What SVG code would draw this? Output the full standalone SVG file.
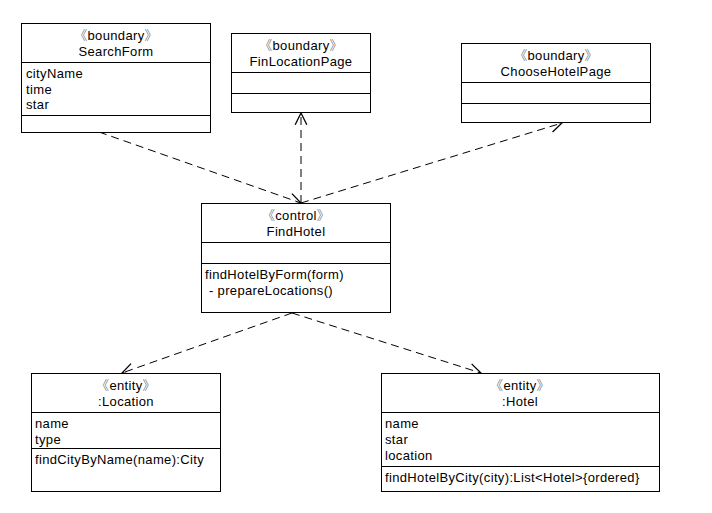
<svg xmlns="http://www.w3.org/2000/svg" width="712" height="513" viewBox="0 0 712 513">
<style>
.box{fill:#fff;stroke:#000;stroke-width:1}
.div{stroke:#000;stroke-width:1}
text{font-family:"Liberation Sans","Noto Sans CJK SC",Arial,sans-serif;font-size:13px;fill:#000;letter-spacing:0.35px}
.c{text-anchor:middle}
.g{fill:#555;font-weight:300}
.dep{fill:none;stroke:#000;stroke-width:1;stroke-dasharray:8 5}
</style>
<defs>
<marker id="open" markerUnits="userSpaceOnUse" markerWidth="14" markerHeight="14" viewBox="0 0 12 12" refX="11" refY="6" orient="auto">
<path d="M1,1 L11,6 L1,11" fill="none" stroke="#000" stroke-width="1.1"/>
</marker>
</defs>
<rect width="712" height="513" fill="#fff"/>

<g id="connectors">
<line class="dep" x1="99" y1="132" x2="301" y2="203" marker-end="url(#open)"/>
<line class="dep" x1="301" y1="203" x2="301" y2="113" marker-end="url(#open)"/>
<line class="dep" x1="301" y1="203" x2="562" y2="123" marker-end="url(#open)"/>
<line class="dep" x1="292" y1="313" x2="122" y2="373" marker-end="url(#open)"/>
<line class="dep" x1="292" y1="313" x2="481" y2="373" marker-end="url(#open)"/>
</g>

<g id="SearchForm">
<rect class="box" x="21.5" y="23.5" width="189" height="109"/>
<line class="div" x1="21.5" y1="62.5" x2="210.5" y2="62.5"/>
<line class="div" x1="21.5" y1="115.5" x2="210.5" y2="115.5"/>
<text class="c" x="116" y="40"><tspan class="g">《</tspan>boundary<tspan class="g">》</tspan></text>
<text class="c" x="116" y="56">SearchForm</text>
<text x="26" y="78">cityName</text>
<text x="26" y="94">time</text>
<text x="26" y="109">star</text>
</g>

<g id="FinLocationPage">
<rect class="box" x="231.5" y="33.5" width="139" height="79"/>
<line class="div" x1="231.5" y1="72.5" x2="370.5" y2="72.5"/>
<line class="div" x1="231.5" y1="93.5" x2="370.5" y2="93.5"/>
<text class="c" x="301" y="50"><tspan class="g">《</tspan>boundary<tspan class="g">》</tspan></text>
<text class="c" x="301" y="66">FinLocationPage</text>
</g>

<g id="ChooseHotelPage">
<rect class="box" x="461.5" y="43.5" width="189" height="79"/>
<line class="div" x1="461.5" y1="82.5" x2="650.5" y2="82.5"/>
<line class="div" x1="461.5" y1="103.5" x2="650.5" y2="103.5"/>
<text class="c" x="556" y="60"><tspan class="g">《</tspan>boundary<tspan class="g">》</tspan></text>
<text class="c" x="556" y="76">ChooseHotelPage</text>
</g>

<g id="FindHotel">
<rect class="box" x="201.5" y="203.5" width="189" height="109"/>
<line class="div" x1="201.5" y1="242.5" x2="390.5" y2="242.5"/>
<line class="div" x1="201.5" y1="263.5" x2="390.5" y2="263.5"/>
<text class="c" x="296" y="220"><tspan class="g">《</tspan>control<tspan class="g">》</tspan></text>
<text class="c" x="296" y="236">FindHotel</text>
<text x="205" y="279">findHotelByForm(form)</text>
<text x="205" y="295" xml:space="preserve"> - prepareLocations()</text>
</g>

<g id="Location">
<rect class="box" x="31.5" y="373.5" width="189" height="118"/>
<line class="div" x1="31.5" y1="412.5" x2="220.5" y2="412.5"/>
<line class="div" x1="31.5" y1="448.5" x2="220.5" y2="448.5"/>
<text class="c" x="126" y="390"><tspan class="g">《</tspan>entity<tspan class="g">》</tspan></text>
<text class="c" x="126" y="406">:Location</text>
<text x="35" y="428">name</text>
<text x="35" y="444">type</text>
<text x="35" y="464">findCityByName(name):City</text>
</g>

<g id="Hotel">
<rect class="box" x="381.5" y="373.5" width="278" height="118"/>
<line class="div" x1="381.5" y1="412.5" x2="659.5" y2="412.5"/>
<line class="div" x1="381.5" y1="466.5" x2="659.5" y2="466.5"/>
<text class="c" x="520" y="390"><tspan class="g">《</tspan>entity<tspan class="g">》</tspan></text>
<text class="c" x="520" y="406">:Hotel</text>
<text x="385" y="428">name</text>
<text x="385" y="444">star</text>
<text x="385" y="460">location</text>
<text x="385" y="482">findHotelByCity(city):List&lt;Hotel&gt;{ordered}</text>
</g>
</svg>
